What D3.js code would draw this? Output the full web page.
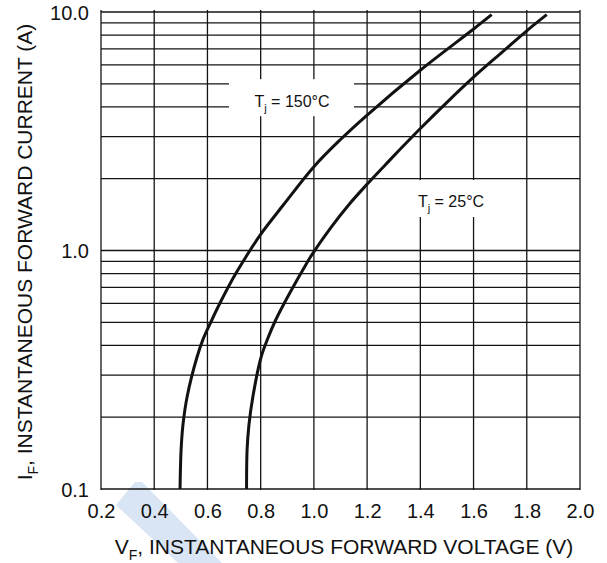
<!DOCTYPE html>
<html>
<head>
<meta charset="utf-8">
<script src="https://cdn.jsdelivr.net/npm/d3@7"></script>
<style>
  html, body { margin: 0; padding: 0; background: #fff; }
  svg { display: block; }
  text { font-family: "Liberation Sans", Arial, Helvetica, sans-serif; fill: #111; }
</style>
</head>
<body>
<svg id="chart" width="607" height="563"></svg>
<script>
// ---------------- data ----------------
const xTickValues = [0.2, 0.4, 0.6, 0.8, 1.0, 1.2, 1.4, 1.6, 1.8, 2.0];
const yTickLabelValues = [0.1, 1.0, 10.0];
const yGridValues = [0.1, 0.2, 0.3, 0.4, 0.5, 0.6, 0.7, 0.8, 0.9,
                     1, 2, 3, 4, 5, 6, 7, 8, 9, 10];

// Tj = 150 °C  (VF in V, IF in A)
const vf150 = [0.497, 0.501, 0.508, 0.524, 0.560, 0.584, 0.616, 0.649, 0.689, 0.716,
               0.745, 0.798, 0.885, 1.000, 1.098, 1.198, 1.401, 1.599, 1.668];
const if150 = [0.100, 0.146, 0.186, 0.245, 0.355, 0.426, 0.510, 0.608, 0.740, 0.834,
               0.942, 1.161, 1.551, 2.246, 2.906, 3.681, 5.713, 8.464, 9.743];

// Tj = 25 °C
const vf25 = [0.747, 0.749, 0.756, 0.771, 0.801, 0.826, 0.856, 0.891, 0.933, 0.960,
              0.987, 1.061, 1.136, 1.198, 1.261, 1.324, 1.401, 1.500, 1.599, 1.699,
              1.800, 1.875];
const if25 = [0.100, 0.146, 0.186, 0.245, 0.355, 0.426, 0.510, 0.608, 0.740, 0.834,
              0.939, 1.236, 1.578, 1.886, 2.241, 2.657, 3.257, 4.182, 5.318, 6.661,
              8.341, 9.743];

const seriesLabels = [
  { main: "T", sub: "j", rest: " = 150°C" },
  { main: "T", sub: "j", rest: " = 25°C" }
];
const xTitle = { main: "V", sub: "F", rest: ", INSTANTANEOUS FORWARD VOLTAGE (V)" };
const yTitle = { main: "I", sub: "F", rest: ", INSTANTANEOUS FORWARD CURRENT (A)" };

// ---------------- layout ----------------
const W = 607, H = 563;
const plot = { left: 101, right: 580, top: 12, bottom: 489 };
const ink = "#141414";

const svg = d3.select("#chart");
svg.append("rect").attr("width", W).attr("height", H).attr("fill", "#fff");

// faint watermark band (as in the scanned reference)
svg.append("polygon")
  .attr("points", "135,482 142,482 222,563 178,563 116,505")
  .attr("fill", "#d9e4f4");

const x = d3.scaleLinear().domain([0.2, 2.0]).range([plot.left, plot.right]);
const y = d3.scaleLog().domain([0.1, 10]).range([plot.bottom, plot.top]);

// grid
const grid = svg.append("g").attr("stroke", ink).attr("stroke-width", 1.3);
grid.selectAll("line.v").data(xTickValues).join("line")
  .attr("x1", d => x(d)).attr("x2", d => x(d))
  .attr("y1", plot.top - 2).attr("y2", plot.bottom + 1);
grid.selectAll("line.h").data(yGridValues).join("line")
  .attr("x1", plot.left).attr("x2", plot.right)
  .attr("y1", d => y(d)).attr("y2", d => y(d));

// axes (labels only, using d3 axis generators)
const xAxis = d3.axisBottom(x).tickValues(xTickValues).tickFormat(d3.format(".1f")).tickSize(0).tickPadding(0);
const gx = svg.append("g").attr("transform", `translate(0,${plot.bottom})`).call(xAxis);
gx.select(".domain").remove();
gx.selectAll("text").attr("font-size", 20).attr("dy", null).attr("y", 28.5)
  .attr("font-family", "Liberation Sans, Arial, sans-serif").attr("fill", "#111");

const yAxis = d3.axisLeft(y).tickValues(yTickLabelValues).tickFormat(d3.format(".1f")).tickSize(0).tickPadding(0);
const gy = svg.append("g").attr("transform", `translate(${plot.left},0)`).call(yAxis);
gy.select(".domain").remove();
gy.selectAll("text").attr("font-size", 20).attr("x", -12).attr("dy", "0.36em")
  .attr("font-family", "Liberation Sans, Arial, sans-serif").attr("fill", "#111");

// helper for text with subscript
function subText(g, t, subSize, shift) {
  g.append("tspan").text(t.main);
  g.append("tspan").text(t.sub).attr("font-size", subSize).attr("dy", shift);
  g.append("tspan").text(t.rest).attr("dy", -shift);
}

// series labels with white boxes
const labelBoxes = [
  { cx: 291.5, cy: 97.7, w: 125, h: 37, tx: 292, ty: 107 },
  { cx: 451.7, cy: 198.5, w: 125, h: 37, tx: 451, ty: 207 }
];
labelBoxes.forEach((b, i) => {
  svg.append("rect")
    .attr("x", b.cx - b.w / 2).attr("y", b.cy - b.h / 2)
    .attr("width", b.w).attr("height", b.h).attr("fill", "#fff");
  const t = svg.append("text").attr("x", b.tx).attr("y", b.ty)
    .attr("text-anchor", "middle").attr("font-size", 16);
  subText(t, seriesLabels[i], 11, 5);
});

// curves
const line = d3.line().x(d => x(d[0])).y(d => y(d[1])).curve(d3.curveCatmullRom.alpha(0.5));
[[vf150, if150], [vf25, if25]].forEach(([vs, is]) => {
  svg.append("path")
    .datum(vs.map((v, k) => [v, is[k]]))
    .attr("d", line)
    .attr("fill", "none").attr("stroke", "#121212").attr("stroke-width", 3)
    .attr("stroke-linecap", "butt");
});

// axis titles
const xt = svg.append("text").attr("x", 344).attr("y", 553.5)
  .attr("text-anchor", "middle").attr("font-size", 21);
subText(xt, xTitle, 14, 6);

const yt = svg.append("text").attr("transform", "translate(31.5,252) rotate(-90)")
  .attr("text-anchor", "middle").attr("font-size", 21);
subText(yt, yTitle, 14, 6);
</script>
</body>
</html>
